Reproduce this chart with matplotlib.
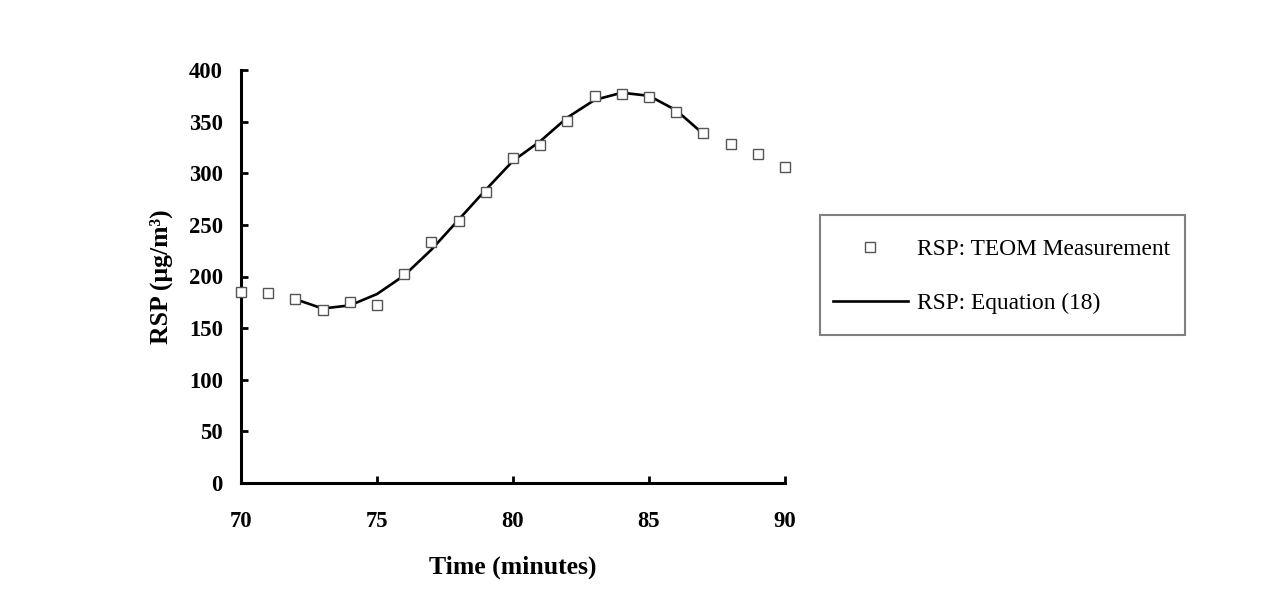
import matplotlib
matplotlib.use("Agg")
import matplotlib.pyplot as plt
from matplotlib.patches import Rectangle

# Data
time_meas = [70, 71, 72, 73, 74, 75, 76, 77, 78, 79, 80, 81, 82, 83, 84, 85, 86, 87, 88, 89, 90]
rsp_meas = [185, 184, 178, 168, 175, 172, 202, 233, 254, 282, 315, 327, 351, 375, 377, 374, 359, 339, 328, 319, 306]

time_eq = [72, 73, 74, 75, 76, 77, 78, 79, 80, 81, 82, 83, 84, 85, 86, 87]
rsp_eq = [178, 169, 172, 183, 201, 226, 255, 284, 312, 331, 354, 371, 378, 375, 361, 338]

xticks = [70, 75, 80, 85, 90]
yticks = [0, 50, 100, 150, 200, 250, 300, 350, 400]

plt.rcParams['font.family'] = ['Liberation Serif', 'DejaVu Serif']

W, H = 1267, 609
fig = plt.figure(figsize=(W/100, H/100), dpi=100)
ax = fig.add_axes([241/W, 1-483/H, (785-241)/W, (483-70)/H])

ax.plot(time_eq, rsp_eq, color='black', lw=1.9, label='RSP: Equation (18)', zorder=2)
ax.plot(time_meas, rsp_meas, ls='none', marker='s', ms=6.8, mfc='white', mec='#555555',
        mew=1.0, label='RSP: TEOM Measurement', zorder=3, clip_on=False)

ax.set_xlim(70, 90)
ax.set_ylim(0, 400)
ax.set_xticks(xticks)
ax.set_yticks(yticks)
ax.spines['top'].set_visible(False)
ax.spines['right'].set_visible(False)
for s in ['left', 'bottom']:
    ax.spines[s].set_linewidth(2.2)
ax.tick_params(direction='in', length=5, width=2.0, labelsize=16.3)
ax.tick_params(axis='y', pad=13)
ax.tick_params(axis='x', pad=20)
for lab in ax.get_xticklabels() + ax.get_yticklabels():
    lab.set_fontweight('bold')

ax.set_xlabel('Time (minutes)', fontsize=18.5, fontweight='bold')
ax.set_ylabel('RSP (μg/m³)', fontsize=18.5, fontweight='bold')
ax.xaxis.set_label_coords(0.5, -0.175)
ax.yaxis.set_label_coords(-0.125, 0.5)

# Legend frame
fig.patches.append(Rectangle((820/W, 1-335/H), (1185-820)/W, (335-215)/H,
                             transform=fig.transFigure, fill=False,
                             edgecolor='#808080', lw=1.5))

handles, labels = ax.get_legend_handles_labels()
leg = fig.legend([handles[1], handles[0]], [labels[1], labels[0]],
                 loc='upper left', bbox_to_anchor=(833/W, 1-239/H),
                 fontsize=16.8, frameon=False, borderpad=0, borderaxespad=0,
                 labelspacing=1.38, handlelength=3.2, handletextpad=0.38)

fig.savefig('out.png', dpi=100, facecolor='white')
